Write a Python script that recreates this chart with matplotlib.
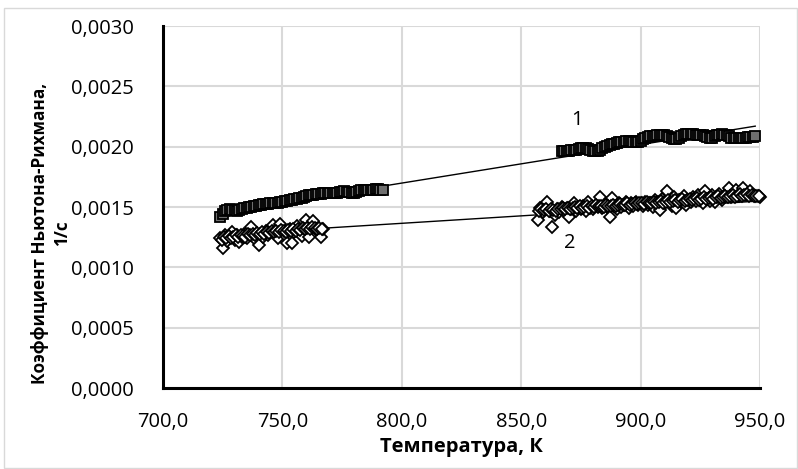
import matplotlib
matplotlib.use("Agg")
import matplotlib.pyplot as plt
from matplotlib.patches import Rectangle
from matplotlib.ticker import FuncFormatter

# ---- data ----
t1a = [724, 725, 726, 727, 728, 729, 730, 731, 732, 733, 734, 735, 736, 737, 738, 739,
       740, 741, 742, 743, 744, 745, 746, 747, 748, 749, 750, 751, 752, 753, 754, 755,
       756, 757, 758, 759, 760, 761, 762, 763, 764, 765, 766, 767, 768, 769, 770, 771,
       772, 773, 774, 775, 776, 777, 778, 779, 780, 781, 782, 783, 784, 785, 786, 787,
       788, 789, 790, 791, 792]
k1a = [1.420, 1.440, 1.465, 1.478, 1.482, 1.478, 1.472, 1.470, 1.475, 1.483, 1.490, 1.495,
       1.497, 1.500, 1.505, 1.512, 1.518, 1.520, 1.522, 1.525, 1.528, 1.530, 1.532, 1.533,
       1.535, 1.538, 1.542, 1.548, 1.552, 1.555, 1.560, 1.565, 1.568, 1.572, 1.578, 1.585,
       1.592, 1.598, 1.602, 1.603, 1.605, 1.608, 1.610, 1.612, 1.614, 1.615, 1.613, 1.612,
       1.615, 1.620, 1.625, 1.628, 1.630, 1.628, 1.622, 1.618, 1.620, 1.628, 1.635, 1.640,
       1.642, 1.640, 1.638, 1.640, 1.645, 1.648, 1.648, 1.645, 1.640]

t1b = [867, 868, 869, 870, 871, 872, 873, 874, 875, 876, 877, 878, 879, 880, 881, 882,
       883, 884, 885, 886, 887, 888, 889, 890, 891, 892, 893, 894, 895, 896, 897, 898,
       899, 900, 901, 902, 903, 904, 905, 906, 907, 908, 909, 910, 911, 912, 913, 914,
       915, 916, 917, 918, 919, 920, 921, 922, 923, 924, 925, 926, 927, 928, 929, 930,
       931, 932, 933, 934, 935, 936, 937, 938, 939, 940, 941, 942, 943, 944, 945, 946,
       947, 948]
k1b = [1.960, 1.962, 1.965, 1.968, 1.970, 1.972, 1.975, 1.980, 1.985, 1.988, 1.985, 1.978,
       1.972, 1.968, 1.965, 1.968, 1.975, 1.985, 1.995, 2.005, 2.012, 2.018, 2.025, 2.030,
       2.035, 2.040, 2.042, 2.045, 2.047, 2.045, 2.042, 2.038, 2.040, 2.050, 2.065, 2.075,
       2.080, 2.085, 2.088, 2.090, 2.095, 2.098, 2.100, 2.098, 2.090, 2.080, 2.070, 2.065,
       2.065, 2.072, 2.085, 2.095, 2.102, 2.106, 2.106, 2.104, 2.100, 2.098, 2.098, 2.096,
       2.088, 2.078, 2.072, 2.075, 2.085, 2.095, 2.100, 2.102, 2.100, 2.095, 2.085, 2.075,
       2.070, 2.068, 2.068, 2.070, 2.072, 2.075, 2.078, 2.082, 2.084, 2.085]

t2a = [724, 725, 726, 727, 728, 729, 730, 731, 732, 733, 734, 735, 736, 737, 738, 739,
       740, 741, 742, 743, 744, 745, 746, 747, 748, 749, 750, 751, 752, 753, 754, 755,
       756, 757, 758, 759, 760, 761, 762, 763, 764, 765, 766, 767,
       724.5, 725.5, 726.5, 727.5, 728.5, 729.5, 730.5, 731.5, 732.5, 733.5, 734.5,
       735.5, 736.5, 737.5, 738.5, 739.5, 740.5, 741.5, 742.5, 743.5, 744.5, 745.5,
       746.5, 747.5, 748.5, 749.5, 750.5, 751.5, 752.5, 753.5, 754.5, 755.5, 756.5,
       757.5, 758.5, 759.5, 760.5, 761.5, 762.5, 763.5, 764.5, 765.5, 766.5]
k2a = [1.240, 1.158, 1.270, 1.220, 1.255, 1.290, 1.230, 1.265, 1.210, 1.250, 1.275, 1.240,
       1.300, 1.338, 1.260, 1.230, 1.186, 1.280, 1.250, 1.300, 1.265, 1.320, 1.350, 1.280,
       1.240, 1.360, 1.300, 1.270, 1.200, 1.320, 1.205, 1.290, 1.340, 1.310, 1.260, 1.330,
       1.393, 1.255, 1.340, 1.380, 1.320, 1.300, 1.250, 1.320,
       1.230, 1.250, 1.245, 1.260, 1.240, 1.255, 1.265, 1.250, 1.270, 1.260, 1.255,
       1.275, 1.265, 1.280, 1.270, 1.285, 1.275, 1.290, 1.280, 1.295, 1.285, 1.300,
       1.290, 1.305, 1.295, 1.310, 1.300, 1.290, 1.310, 1.300, 1.315, 1.305, 1.320,
       1.310, 1.325, 1.315, 1.330, 1.320, 1.335, 1.325, 1.320, 1.330, 1.315]

t2b = [857, 858, 859, 860, 861, 862, 863, 864, 865, 866, 867, 868, 869, 870, 871, 872,
       873, 874, 875, 876, 877, 878, 879, 880, 881, 882, 883, 884, 885, 886, 887, 888,
       889, 890, 891, 892, 893, 894, 895, 896, 897, 898, 899, 900, 901, 902, 903, 904,
       905, 906, 907, 908, 909, 910, 911, 912, 913, 914, 915, 916, 917, 918, 919, 920,
       921, 922, 923, 924, 925, 926, 927, 928, 929, 930, 931, 932, 933, 934, 935, 936,
       937, 938, 939, 940, 941, 942, 943, 944, 945, 946, 947, 948, 949, 950,
       857.5, 858.5, 859.5, 860.5, 861.5, 862.5, 863.5, 864.5, 865.5, 866.5,
       867.5, 868.5, 869.5, 870.5, 871.5, 872.5, 873.5, 874.5, 875.5, 876.5,
       877.5, 878.5, 879.5, 880.5, 881.5, 882.5, 883.5, 884.5, 885.5, 886.5,
       887.5, 888.5, 889.5, 890.5, 891.5, 892.5, 893.5, 894.5, 895.5, 896.5,
       897.5, 898.5, 899.5, 900.5, 901.5, 902.5, 903.5, 904.5, 905.5, 906.5,
       907.5, 908.5, 909.5, 910.5, 911.5, 912.5, 913.5, 914.5, 915.5, 916.5,
       917.5, 918.5, 919.5, 920.5, 921.5, 922.5, 923.5, 924.5, 925.5, 926.5,
       927.5, 928.5, 929.5, 930.5, 931.5, 932.5, 933.5, 934.5, 935.5, 936.5,
       937.5, 938.5, 939.5, 940.5, 941.5, 942.5, 943.5, 944.5, 945.5, 946.5,
       947.5, 948.5, 949.5]
k2b = [1.393, 1.490, 1.460, 1.500, 1.545, 1.470, 1.338, 1.430, 1.480, 1.455, 1.500, 1.470,
       1.490, 1.420, 1.480, 1.531, 1.470, 1.500, 1.485, 1.510, 1.470, 1.545, 1.495, 1.480,
       1.510, 1.500, 1.587, 1.490, 1.520, 1.500, 1.420, 1.575, 1.510, 1.480, 1.530, 1.500,
       1.520, 1.545, 1.495, 1.530, 1.510, 1.540, 1.520, 1.530, 1.510, 1.545, 1.520, 1.530,
       1.500, 1.560, 1.540, 1.476, 1.570, 1.530, 1.633, 1.550, 1.510, 1.580, 1.490, 1.560,
       1.540, 1.590, 1.520, 1.560, 1.540, 1.580, 1.550, 1.600, 1.560, 1.530, 1.633, 1.570,
       1.550, 1.600, 1.540, 1.580, 1.610, 1.560, 1.590, 1.620, 1.660, 1.580, 1.600, 1.640,
       1.590, 1.620, 1.655, 1.600, 1.610, 1.630, 1.600, 1.590, 1.595, 1.585,
       1.470, 1.480, 1.475, 1.485, 1.470, 1.480, 1.475, 1.470, 1.485, 1.480,
       1.490, 1.480, 1.495, 1.485, 1.490, 1.500, 1.490, 1.505, 1.495, 1.500,
       1.510, 1.495, 1.505, 1.500, 1.515, 1.505, 1.510, 1.500, 1.515, 1.510,
       1.505, 1.520, 1.510, 1.515, 1.525, 1.515, 1.520, 1.530, 1.520, 1.525,
       1.535, 1.525, 1.530, 1.535, 1.525, 1.540, 1.530, 1.535, 1.545, 1.530,
       1.540, 1.550, 1.535, 1.545, 1.555, 1.540, 1.550, 1.560, 1.545, 1.555,
       1.565, 1.550, 1.560, 1.570, 1.555, 1.565, 1.575, 1.560, 1.570, 1.580,
       1.565, 1.575, 1.585, 1.570, 1.580, 1.590, 1.575, 1.585, 1.595, 1.580,
       1.590, 1.600, 1.585, 1.595, 1.605, 1.590, 1.600, 1.610, 1.595, 1.600,
       1.590, 1.595, 1.590]

trend1_t = [724, 948]
trend1_k = [1.456, 2.170]
trend2_t = [724, 950]
trend2_k = [1.271, 1.550]

series_labels = ["1", "2"]
label_pos_t = [873.5, 870.5]
label_pos_k = [2.225, 1.205]

x_ticks = [700, 750, 800, 850, 900, 950]
y_ticks = [0.0, 0.5, 1.0, 1.5, 2.0, 2.5, 3.0]
xlabel = "Температура, К"
ylabel = "Коэффициент Ньютона-Рихмана,\n1/с"

SCALE = 1e-3

# ---- figure ----
plt.rcParams['font.family'] = ['Open Sans', 'DejaVu Sans']
FS = 14.5
fig = plt.figure(figsize=(7.98, 4.69), dpi=100)
fig.patches.append(Rectangle((4 / 798, 1 / 469), 793 / 798, 460 / 469, transform=fig.transFigure,
                             fill=False, edgecolor='#d9d9d9', linewidth=1.0))
ax = fig.add_axes([163 / 798, (469 - 388) / 469, (760 - 163) / 798, (388 - 26) / 469])

ax.set_xlim(700, 950)
ax.set_ylim(0, 0.003)
ax.set_xticks(x_ticks)
ax.set_yticks([v * SCALE for v in y_ticks])
ax.xaxis.set_major_formatter(FuncFormatter(lambda v, p: f"{v:.1f}".replace('.', ',')))
ax.yaxis.set_major_formatter(FuncFormatter(lambda v, p: f"{v:.4f}".replace('.', ',')))
ax.grid(True, color='#d9d9d9', linewidth=1.5)
ax.set_axisbelow(True)
ax.tick_params(length=0, labelsize=FS, colors='black')
ax.tick_params(axis='y', pad=21)
ax.tick_params(axis='x', pad=17)
for s in ['top', 'right']:
    ax.spines[s].set_visible(False)
for s in ['left', 'bottom']:
    ax.spines[s].set_color('black')
    ax.spines[s].set_linewidth(2.2)
    ax.spines[s].set_zorder(5)

ax.plot(trend1_t, [v * SCALE for v in trend1_k], color='black', lw=1.0, zorder=2)
ax.plot(trend2_t, [v * SCALE for v in trend2_k], color='black', lw=1.0, zorder=2)

sq = dict(ls='none', marker='s', ms=7.0, mfc='#6f6f6f', mec='black', mew=1.3,
          zorder=3, clip_on=False)
dm = dict(ls='none', marker='D', ms=6.0, mfc='white', mec='black', mew=1.3,
          zorder=3, clip_on=False)
ax.plot(t1a, [v * SCALE for v in k1a], **sq)
ax.plot(t1b, [v * SCALE for v in k1b], **sq)
ax.plot(t2a, [v * SCALE for v in k2a], **dm)
ax.plot(t2b, [v * SCALE for v in k2b], **dm)

for lab, tx, ty in zip(series_labels, label_pos_t, label_pos_k):
    ax.text(tx, ty * SCALE, lab, fontsize=FS, ha='center', va='center')

fig.text(461 / 798, 1 - 447 / 469, xlabel, fontsize=FS, fontweight='bold',
         ha='center', va='center')
fig.text(51 / 798, 1 - 233 / 469, ylabel, fontsize=12.3, fontweight='bold',
         ha='center', va='center', rotation=90, multialignment='center', linespacing=1.25)

fig.savefig('out.png', dpi=100)
